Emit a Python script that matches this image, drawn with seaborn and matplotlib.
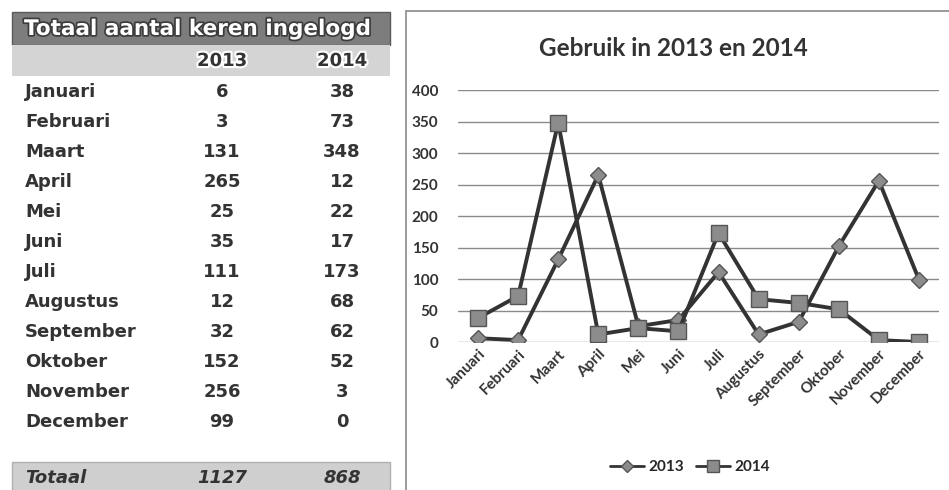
import matplotlib.pyplot as plt
import matplotlib.patheffects as pe
from matplotlib.patches import Rectangle
import seaborn as sns
import pandas as pd

months = ['Januari', 'Februari', 'Maart', 'April', 'Mei', 'Juni', 'Juli',
          'Augustus', 'September', 'Oktober', 'November', 'December']
years = ['2013', '2014']
logins_2013 = [6, 3, 131, 265, 25, 35, 111, 12, 32, 152, 256, 99]
logins_2014 = [38, 73, 348, 12, 22, 17, 173, 68, 62, 52, 3, 0]
totals = [1127, 868]
y_ticks = [0, 50, 100, 150, 200, 250, 300, 350, 400]

TXT = '#333333'


def draw_table(fig):
    W, H = 949, 490

    def fx(x):
        return x / W

    def fy(y):
        return 1 - y / H

    # header bar, year row and total row
    fig.add_artist(Rectangle((fx(12), fy(45)), fx(378), 33 / H, transform=fig.transFigure,
                             facecolor='#7d7d7d', edgecolor='#5a5a5a', lw=1))
    fig.add_artist(Rectangle((fx(12), fy(76)), fx(378), 31 / H, transform=fig.transFigure,
                             facecolor='#d4d4d4', edgecolor='none'))
    fig.add_artist(Rectangle((fx(12), fy(492)), fx(378), 30 / H, transform=fig.transFigure,
                             facecolor='#cfcfcf', edgecolor='#b0b0b0', lw=1))

    fig.text(fx(24), fy(29), 'Totaal aantal keren ingelogd', color='white',
             fontsize=15.5, fontweight='bold', va='center', ha='left',
             path_effects=[pe.withStroke(linewidth=2.5, foreground='#3c3c3c')])

    col_x = [fx(222), fx(342)]
    for x, yr in zip(col_x, years):
        fig.text(x, fy(61), yr, color=TXT, fontsize=13, fontweight='bold',
                 ha='center', va='center',
                 path_effects=[pe.withStroke(linewidth=3, foreground='white')])

    row_y0, row_dy = 92, 30
    for i, m in enumerate(months):
        y = fy(row_y0 + i * row_dy)
        fig.text(fx(25), y, m, color=TXT, fontsize=13, fontweight='bold',
                 ha='left', va='center')
        fig.text(col_x[0], y, str(logins_2013[i]), color=TXT, fontsize=13,
                 fontweight='bold', ha='center', va='center')
        fig.text(col_x[1], y, str(logins_2014[i]), color=TXT, fontsize=13,
                 fontweight='bold', ha='center', va='center')

    y = fy(478)
    fig.text(fx(25), y, 'Totaal', color=TXT, fontsize=13, fontweight='bold',
             style='italic', ha='left', va='center')
    for x, t in zip(col_x, totals):
        fig.text(x, y, str(t), color=TXT, fontsize=13, fontweight='bold',
                 style='italic', ha='center', va='center')


def main():
    sns.set_style('white')
    plt.rcParams['font.family'] = ['DejaVu Sans']

    df = pd.DataFrame({
        'Maand': months * 2,
        'Aantal': logins_2013 + logins_2014,
        'Jaar': ['2013'] * 12 + ['2014'] * 12,
    })

    fig = plt.figure(figsize=(9.49, 4.9), dpi=100)
    draw_table(fig)

    # chart panel border
    fig.add_artist(Rectangle((406 / 949, -0.01), 0.6, 1 - 11 / 490 + 0.01,
                             transform=fig.transFigure, facecolor='none',
                             edgecolor='#8a8a8a', lw=1.2))

    ax = fig.add_axes([458 / 949, 1 - 342 / 490, 481 / 949, 252 / 490])
    sns.lineplot(data=df, x='Maand', y='Aantal', hue='Jaar', style='Jaar',
                 markers={'2013': 'D', '2014': 's'}, dashes=False, sort=False,
                 palette={'2013': '#333333', '2014': '#333333'}, lw=2.8,
                 markersize=9, markerfacecolor='#8c8c8c', markeredgecolor='#555555',
                 markeredgewidth=1, ax=ax, legend=False)
    for line, ms in zip(ax.lines, [8, 11]):
        line.set_markersize(ms)

    ax.set_xlim(-0.5, 11.5)
    ax.set_ylim(0, 400)
    ax.set_yticks(y_ticks)
    ax.yaxis.grid(True, color='#8a8a8a', lw=1)
    ax.set_axisbelow(True)
    for s in ax.spines.values():
        s.set_visible(False)
    ax.set_xlabel('')
    ax.set_ylabel('')
    ax.tick_params(length=0)
    for lbl in ax.get_yticklabels():
        lbl.set_fontfamily('Lato')
        lbl.set_fontweight('bold')
        lbl.set_fontsize(11)
        lbl.set_color(TXT)
    ax.tick_params(axis='y', pad=14)
    ax.set_xticks(range(len(months)))
    ax.set_xticklabels(months, rotation=45, ha='right', rotation_mode='anchor',
                       fontfamily='Lato', fontweight='bold', fontsize=11, color=TXT)

    fig.text(673 / 949, 1 - 48 / 490, 'Gebruik in 2013 en 2014', ha='center', va='center',
             fontfamily='Lato', fontweight='bold', fontsize=17.5, color=TXT)

    handles = [plt.Line2D([], [], color='#333333', lw=2, marker=mk, markersize=ms,
                          markerfacecolor='#8c8c8c', markeredgecolor='#555555')
               for mk, ms in zip(['D', 's'], [6, 8])]
    fig.legend(handles, years, loc='center', bbox_to_anchor=(690 / 949, 1 - 467 / 490),
               ncol=2, frameon=False, handlelength=2.2, columnspacing=0.8, handletextpad=0.3,
               prop={'family': 'Lato', 'weight': 'bold', 'size': 11})

    fig.savefig('out.png', dpi=100)


if __name__ == '__main__':
    main()
